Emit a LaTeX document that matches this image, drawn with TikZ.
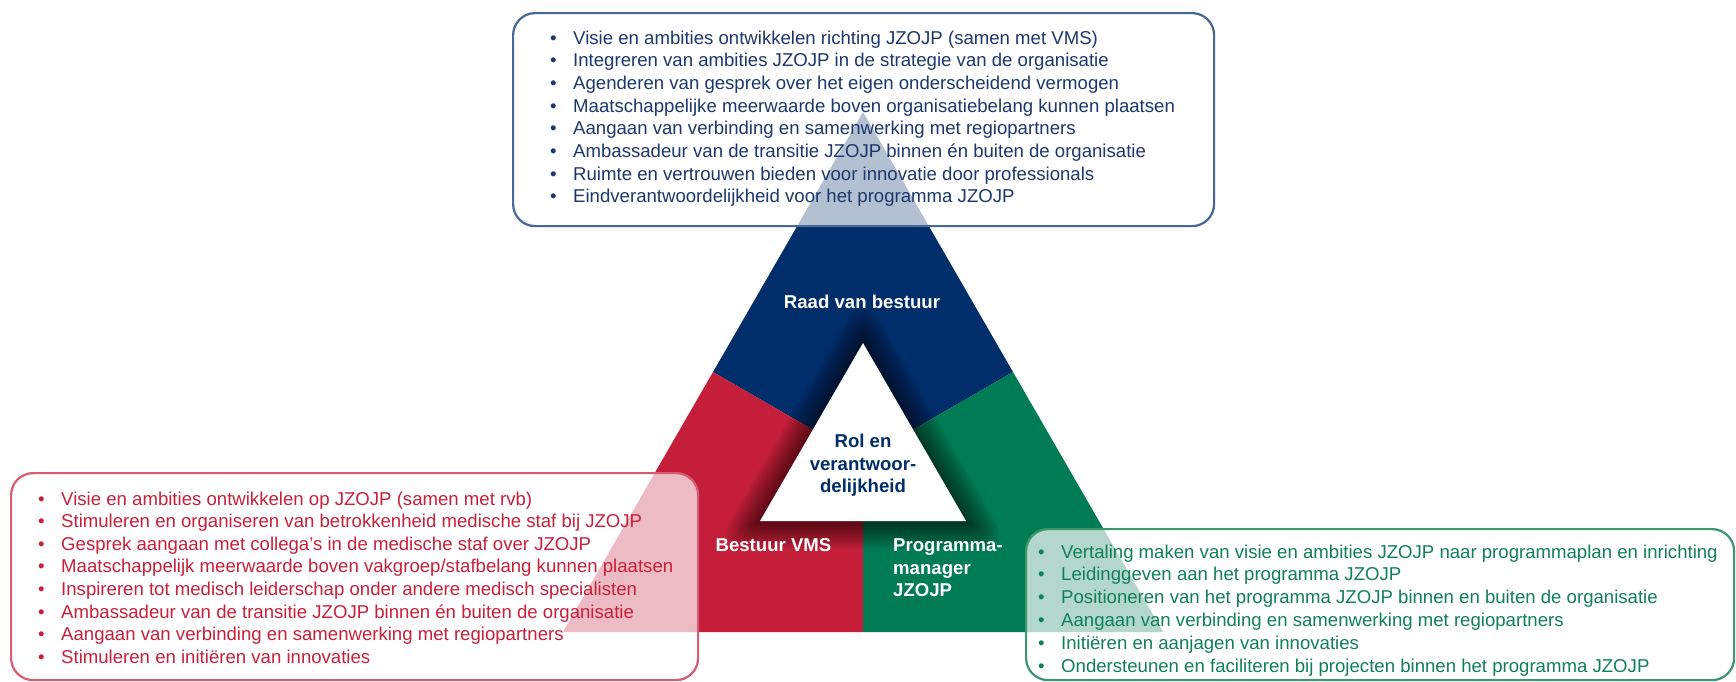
\documentclass[tikz,border=0pt]{standalone}
\usepackage{fontspec}
\setmainfont{Liberation Sans}
\definecolor{rvbblue}{RGB}{0,46,106}
\definecolor{vmsred}{RGB}{196,30,58}
\definecolor{pmgreen}{RGB}{0,124,84}
\definecolor{topline}{RGB}{70,104,150}
\definecolor{toptext}{RGB}{28,56,108}
\definecolor{redline}{RGB}{214,92,112}
\definecolor{redtext}{RGB}{200,32,58}
\definecolor{greenline}{RGB}{60,150,112}
\definecolor{greentext}{RGB}{16,128,88}
\newcommand\bul{\makebox[23pt][l]{\textbullet}}
\tikzset{
  item/.style={anchor=base west, inner sep=0pt, font=\fontsize{18.6}{22.6}\selectfont},
  lbl/.style={text=white, font=\bfseries\fontsize{18.6}{22.5}\selectfont, inner sep=0pt},
  panel/.style={rounded corners=22pt, line width=2.2pt, fill=white, fill opacity=0.7, anchor=north west, inner sep=0pt},
}
\begin{document}
\begin{tikzpicture}[x=1pt,y=-1pt]
\useasboundingbox (0,0) rectangle (1736,681);
% outer triangle
\coordinate (A) at (863,112);
\coordinate (BL) at (563,632);
\coordinate (BR) at (1163,632);
\coordinate (ML) at (713,372);
\coordinate (MR) at (1013,372);
\coordinate (MB) at (863,632);
\coordinate (C) at (863,458.7);
\fill[rvbblue] (A) -- (MR) -- (C) -- (ML) -- cycle;
\fill[vmsred] (ML) -- (C) -- (MB) -- (BL) -- cycle;
\fill[pmgreen] (MR) -- (BR) -- (MB) -- (C) -- cycle;
% soft shadow around inner triangle
\begin{scope}
  \clip (A) -- (BR) -- (BL) -- cycle;
  \foreach \i in {1,...,20}{
    \fill[black, opacity=0.03, rounded corners={1.6*\i pt}, shift={(863,463)}, scale={1+0.022*\i}]
      (0,-120) -- (-104,60) -- (104,60) -- cycle;
  }
\end{scope}
% inner triangle
\coordinate (IA) at (863,343);
\coordinate (IL) at (760,521);
\coordinate (IR) at (966,521);
\fill[white] (IA) -- (IR) -- (IL) -- cycle;
% labels
\node[lbl] (rvb) at (862,302) {Raad van bestuur};
\node[lbl] (vms) at (773.5,545) {Bestuur VMS};
\node[lbl, anchor=north west, align=left] (pm) at (893,538.5) {Programma-\\manager\\JZOJP};
\node[lbl, text=rvbblue, align=center] (rol) at (863,465.5) {Rol en\\verantwoor-\\delijkheid};
% panels
\node[panel, draw=topline, minimum width=701pt, minimum height=213pt] (topbox) at (512,12) {};
\node[panel, draw=redline, minimum width=687pt, minimum height=207pt] (redbox) at (10,472) {};
\node[panel, draw=greenline, minimum width=708pt, minimum height=151pt] (greenbox) at (1025,528) {};
% texts
\foreach \t [count=\i from 0] in {
  {Visie en ambities ontwikkelen richting JZOJP (samen met VMS)},
  {Integreren van ambities JZOJP in de strategie van de organisatie},
  {Agenderen van gesprek over het eigen onderscheidend vermogen},
  {Maatschappelijke meerwaarde boven organisatiebelang kunnen plaatsen},
  {Aangaan van verbinding en samenwerking met regiopartners},
  {Ambassadeur van de transitie JZOJP binnen én buiten de organisatie},
  {Ruimte en vertrouwen bieden voor innovatie door professionals},
  {Eindverantwoordelijkheid voor het programma JZOJP}}
  \node[item, text=toptext] (t\i) at (550,{44+22.7*\i}) {\bul\t};
\foreach \t [count=\i from 0] in {
  {Visie en ambities ontwikkelen op JZOJP (samen met rvb)},
  {Stimuleren en organiseren van betrokkenheid medische staf bij JZOJP},
  {Gesprek aangaan met collega's in de medische staf over JZOJP},
  {Maatschappelijk meerwaarde boven vakgroep/stafbelang kunnen plaatsen},
  {Inspireren tot medisch leiderschap onder andere medisch specialisten},
  {Ambassadeur van de transitie JZOJP binnen én buiten de organisatie},
  {Aangaan van verbinding en samenwerking met regiopartners},
  {Stimuleren en initiëren van innovaties}}
  \node[item, text=redtext] (r\i) at (38,{505+22.6*\i}) {\bul\t};
\foreach \t [count=\i from 0] in {
  {Vertaling maken van visie en ambities JZOJP naar programmaplan en inrichting},
  {Leidinggeven aan het programma JZOJP},
  {Positioneren van het programma JZOJP binnen en buiten de organisatie},
  {Aangaan van verbinding en samenwerking met regiopartners},
  {Initiëren en aanjagen van innovaties},
  {Ondersteunen en faciliteren bij projecten binnen het programma JZOJP}}
  \node[item, text=greentext] (g\i) at (1038,{558+22.8*\i}) {\bul\t};
\end{tikzpicture}
\end{document}
